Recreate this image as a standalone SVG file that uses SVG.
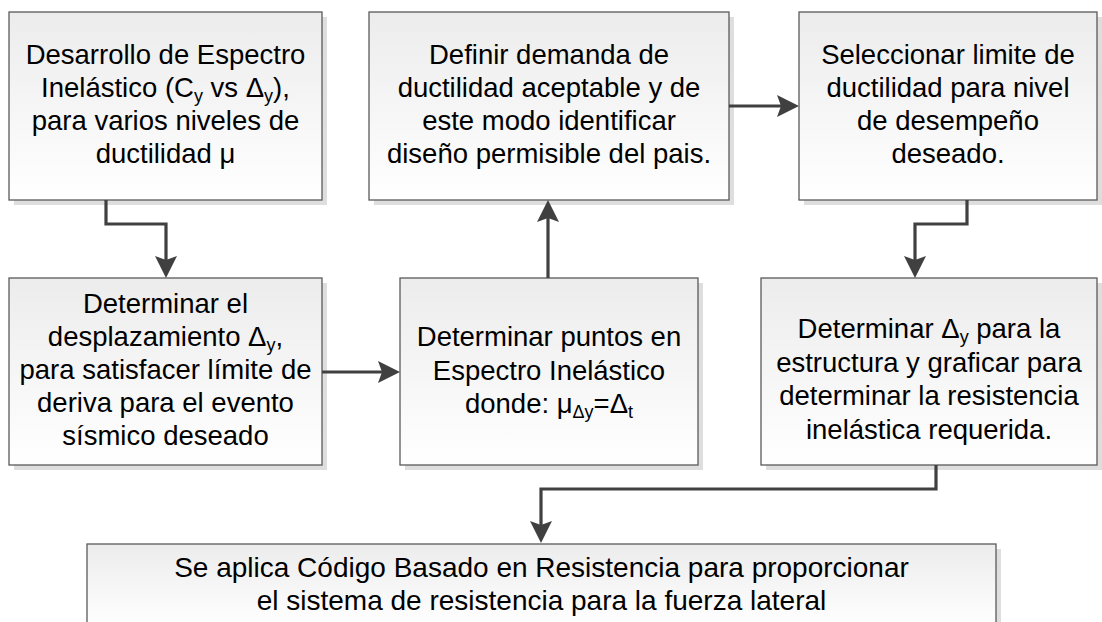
<svg xmlns="http://www.w3.org/2000/svg" width="1102" height="622" viewBox="0 0 1102 622">
<defs>
<linearGradient id="g" x1="0" y1="0" x2="0" y2="1">
<stop offset="0" stop-color="#ececec"/>
<stop offset="1" stop-color="#ffffff"/>
</linearGradient>
<marker id="ah" markerUnits="userSpaceOnUse" markerWidth="24" markerHeight="22" refX="14" refY="11" orient="auto">
<path d="M0,0 L22,11 L0,22 L4,11 z" fill="#404040"/>
</marker>
<style>
.sh{fill:#dedede}
.bx{fill:url(#g);stroke:#5a5a5a;stroke-width:1.3}
.t{font-family:"Liberation Sans",Arial,sans-serif;font-size:27.5px;fill:#000;text-anchor:middle}
.b{font-size:28px}
.s{font-size:18px}
.c{fill:none;stroke:#404040;stroke-width:3.2}
</style>
</defs>
<rect width="1102" height="622" fill="#fff"/>

<g id="n1">
<rect class="sh" x="14" y="17" width="313" height="188"/>
<rect class="bx" x="9" y="12" width="313" height="188"/>
<text class="t" x="165.5" y="64">Desarrollo de Espectro</text>
<text class="t" x="165.5" y="97">Inelástico (C<tspan class="s" dy="5">y</tspan><tspan dy="-5"> vs Δ</tspan><tspan class="s" dy="5">y</tspan><tspan dy="-5">),</tspan></text>
<text class="t" x="165.5" y="130">para varios niveles de</text>
<text class="t" x="165.5" y="163">ductilidad μ</text>
</g>

<g id="n2">
<rect class="sh" x="374" y="17" width="360" height="188"/>
<rect class="bx" x="369" y="12" width="360" height="188"/>
<text class="t" x="549" y="64">Definir demanda de</text>
<text class="t" x="549" y="97">ductilidad aceptable y de</text>
<text class="t" x="549" y="130">este modo identificar</text>
<text class="t" x="549" y="163">diseño permisible del pais.</text>
</g>

<g id="n3">
<rect class="sh" x="804" y="17" width="298" height="188"/>
<rect class="bx" x="799" y="12" width="298" height="188"/>
<text class="t" x="948" y="64">Seleccionar limite de</text>
<text class="t" x="948" y="97">ductilidad para nivel</text>
<text class="t" x="948" y="130">de desempeño</text>
<text class="t" x="948" y="163">deseado.</text>
</g>

<g id="n4">
<rect class="sh" x="14" y="283" width="313" height="187"/>
<rect class="bx" x="9" y="278" width="313" height="187"/>
<text class="t" x="165.5" y="313">Determinar el</text>
<text class="t" x="165.5" y="346">desplazamiento Δ<tspan class="s" dy="5">y</tspan><tspan dy="-5">,</tspan></text>
<text class="t" x="165.5" y="379">para satisfacer límite de</text>
<text class="t" x="165.5" y="412">deriva para el evento</text>
<text class="t" x="165.5" y="445">sísmico deseado</text>
</g>

<g id="n5">
<rect class="sh" x="405" y="283" width="298" height="187"/>
<rect class="bx" x="400" y="278" width="298" height="187"/>
<text class="t" x="549" y="346">Determinar puntos en</text>
<text class="t" x="549" y="379.5">Espectro Inelástico</text>
<text class="t" x="549" y="413">donde: μ<tspan class="s" dy="5">Δy</tspan><tspan dy="-5">=Δ</tspan><tspan class="s" dy="5">t</tspan></text>
</g>

<g id="n6">
<rect class="sh" x="766" y="283" width="336" height="187"/>
<rect class="bx" x="761" y="278" width="336" height="187"/>
<text class="t" x="929" y="338">Determinar Δ<tspan class="s" dy="5">y</tspan><tspan dy="-5"> para la</tspan></text>
<text class="t" x="929" y="371.5">estructura y graficar para</text>
<text class="t" x="929" y="405">determinar la resistencia</text>
<text class="t" x="929" y="438.5">inelástica requerida.</text>
</g>

<g id="n7">
<rect class="sh" x="92" y="549" width="909" height="80"/>
<rect class="bx" x="87" y="544" width="909" height="82"/>
<text class="t b" x="541.5" y="577">Se aplica Código Basado en Resistencia para proporcionar</text>
<text class="t b" x="541.5" y="610">el sistema de resistencia para la fuerza lateral</text>
</g>

<g id="connectors">
<path class="c" d="M106,200 V224 H166 V270" marker-end="url(#ah)"/>
<path class="c" d="M322,372 H392" marker-end="url(#ah)"/>
<path class="c" d="M548,278 V208" marker-end="url(#ah)"/>
<path class="c" d="M729,106 H791" marker-end="url(#ah)"/>
<path class="c" d="M967,200 V224 H915 V270" marker-end="url(#ah)"/>
<path class="c" d="M936,465 V489 H541 V535" marker-end="url(#ah)"/>
</g>
</svg>
